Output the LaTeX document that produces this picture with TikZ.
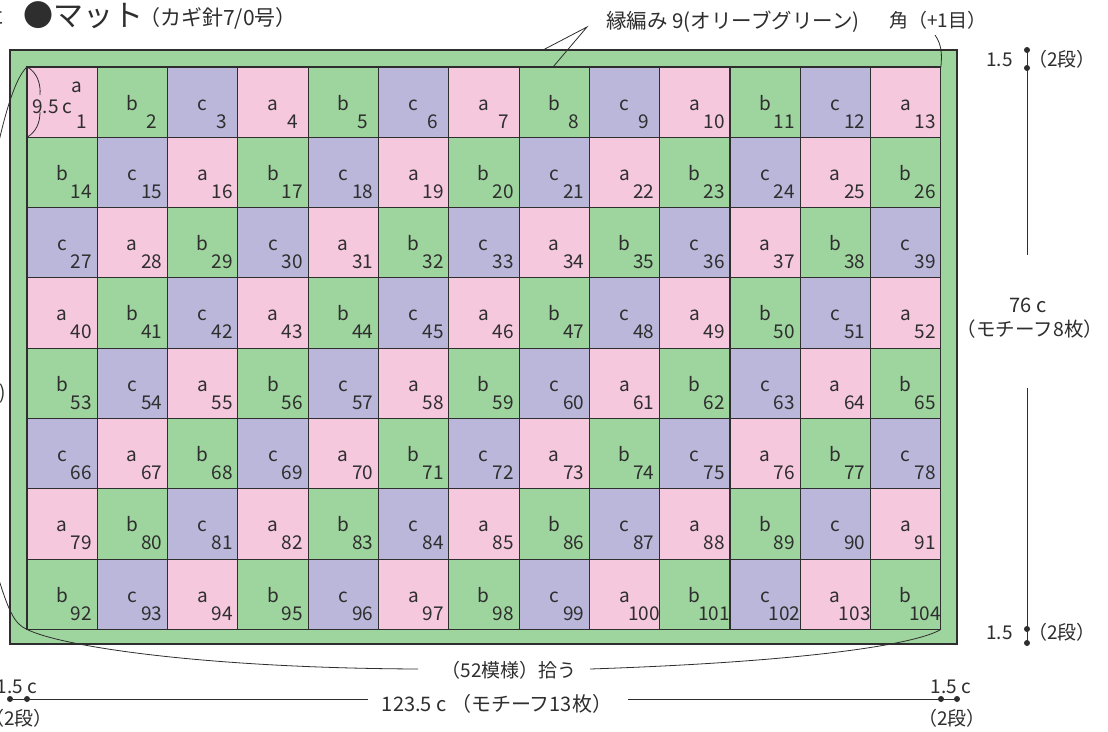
\documentclass[tikz,border=0pt]{standalone}
\usepackage{fontspec}
\setmainfont{Noto Sans CJK JP}
\usetikzlibrary{calc}
\definecolor{col0}{HTML}{F6C8DE}
\definecolor{col1}{HTML}{9ED49E}
\definecolor{col2}{HTML}{BAB7DB}
\definecolor{ink}{HTML}{2E2E2E}
\begin{document}
\begin{tikzpicture}[x=1pt,y=-1pt,
  cellbox/.style={draw=ink, line width=1.1pt, minimum width=70.3pt, minimum height=70.3pt, inner sep=0pt, outer sep=0pt, anchor=north west},
  framebox/.style={draw=ink, line width=1.2pt, fill=col1, inner sep=0pt, outer sep=0pt, anchor=north west},
  lett/.style={font=\fontsize{19}{19}\selectfont, inner sep=0pt, anchor=base, text=ink},
  numb/.style={font=\fontsize{19}{19}\selectfont, inner sep=0pt, anchor=base, text=ink},
  lbl/.style={font=\fontsize{19}{19}\selectfont, inner sep=0pt, text=ink},
  thinline/.style={draw=ink, line width=0.8pt},
  dimdot/.style={circle, fill=ink, inner sep=0pt, minimum size=6pt}
]
\useasboundingbox (0,0) rectangle (1108,731);
\fill[white] (0,0) rectangle (1108,731);

% border
\node[framebox, minimum width=947pt, minimum height=594pt] (border) at (10,50) {};

% cells
\foreach \r in {0,...,7}{
  \foreach \c in {0,...,12}{
    \pgfmathtruncatemacro\n{\r*13+\c}
    \pgfmathtruncatemacro\m{mod(\n,3)}
    \pgfmathtruncatemacro\k{\n+1}
    \pgfmathsetmacro\xx{27+\c*70.3}
    \pgfmathsetmacro\yy{67+\r*70.3}
    \node[cellbox, fill=col\m] (c\n) at (\xx,\yy) {};
    \ifnum\n=0
      \node[lett] (l\n) at (\xx+50,\yy+25) {a};
    \else
      \node[lett] (l\n) at (\xx+35,\yy+43) {\ifcase\m a\or b\or c\fi};
    \fi
    \node[numb] (n\n) at (\xx+54.5,\yy+61) {\k};
  }
}

% 9.5 c in cell 1
\node[lett, anchor=base west] (w95) at (32,113) {9.5 c};
\draw[thinline] (c0.north west) .. controls (37,72) and (41,84) .. (40,95);
\draw[thinline] (40,112) .. controls (40,123) and (36,132) .. (c0.south west);

% title
\node[inner sep=0pt, anchor=base east, text=ink, font=\fontsize{19}{19}\selectfont] (frag) at (5,24) {に};
\node[inner sep=0pt, anchor=base west, text=ink, font=\fontsize{30}{30}\selectfont] (title) at (23,26.5) {●マット};
\node[inner sep=0pt, anchor=base west, text=ink, font=\fontsize{21}{21}\selectfont] (hook) at (139,25) {（カギ針7/0号）};

% edge label
\node[lbl, anchor=base, font=\fontsize{20.5}{20.5}\selectfont] (edge) at (733,28.5) {縁編み 9(オリーブグリーン)};
\coordinate (edgept) at (587,27);
\coordinate (edgeA) at (543,50);
\coordinate (edgeB) at (553,67);
\draw[thinline] (edgeA) -- (edgept) -- (edgeB);

% corner label
\node[lbl, anchor=base west] (corner) at (889,27.5) {角（+1目）};
\coordinate (cornerpt) at (935,35);
\draw[thinline] (cornerpt) .. controls (942,45) and (942,55) .. (c12.north east);

% right dimension
\node[dimdot] (rd1) at (1027,50) {};
\node[dimdot] (rd2) at (1027,68) {};
\node[dimdot] (rd3) at (1027,629) {};
\node[dimdot] (rd4) at (1027,643) {};
\coordinate (rg1) at (1027,255);
\coordinate (rg2) at (1027,388);
\draw[thinline] (rd1.center) -- (rg1);
\draw[thinline] (rg2) -- (rd4.center);
\node[lbl, anchor=base east] (r15a) at (1013,66) {1.5};
\node[lbl, anchor=base west] (r2a) at (1028,66) {（2段）};
\node[lbl, anchor=base east] (r15b) at (1013,639.5) {1.5};
\node[lbl, anchor=base west] (r2b) at (1028,639.5) {（2段）};
\node[lbl, anchor=base, font=\fontsize{20}{20}\selectfont] (r76) at (1028,312.5) {76 c};
\node[lbl, anchor=base, font=\fontsize{19.5}{19.5}\selectfont] (r8) at (1030,336.5) {（モチーフ8枚）};

% bottom dimension
\node[dimdot] (bd1) at (10,699) {};
\node[dimdot] (bd2) at (27,699) {};
\node[dimdot] (bd3) at (941,699) {};
\node[dimdot] (bd4) at (957,699) {};
\coordinate (bg1) at (368,699);
\coordinate (bg2) at (628,699);
\draw[thinline] (bd1.center) -- (bg1);
\draw[thinline] (bg2) -- (bd4.center);
\node[lbl, anchor=base, font=\fontsize{20}{20}\selectfont] (b123) at (497,711.5) {123.5 c （モチーフ13枚）};
\node[lbl, anchor=base] (bl15) at (17,693) {1.5 c};
\node[lbl, anchor=base] (bl2) at (19,725) {（2段）};
\node[lbl, anchor=base] (br15) at (951,693) {1.5 c};
\node[lbl, anchor=base] (br2) at (952,725) {（2段）};

% pick-up label and leader curves
\node[lbl, anchor=base] (pick) at (509,677.5) {（52模様）拾う};
\coordinate (pickL) at (418,669);
\coordinate (pickR) at (590,669);
\draw[thinline] (-4,570) .. controls (8,610) and (14,624) .. (c91.south west) .. controls (60,646) and (200,668) .. (pickL);
\draw[thinline] (pickR) .. controls (800,662) and (915,645) .. (c103.south east);

% left side fragments
\draw[thinline] (c0.north west) .. controls (18,75) and (8,100) .. (-3,150);
\node[lbl, anchor=base east] (lparen) at (6,399) {)};
\end{tikzpicture}
\end{document}
